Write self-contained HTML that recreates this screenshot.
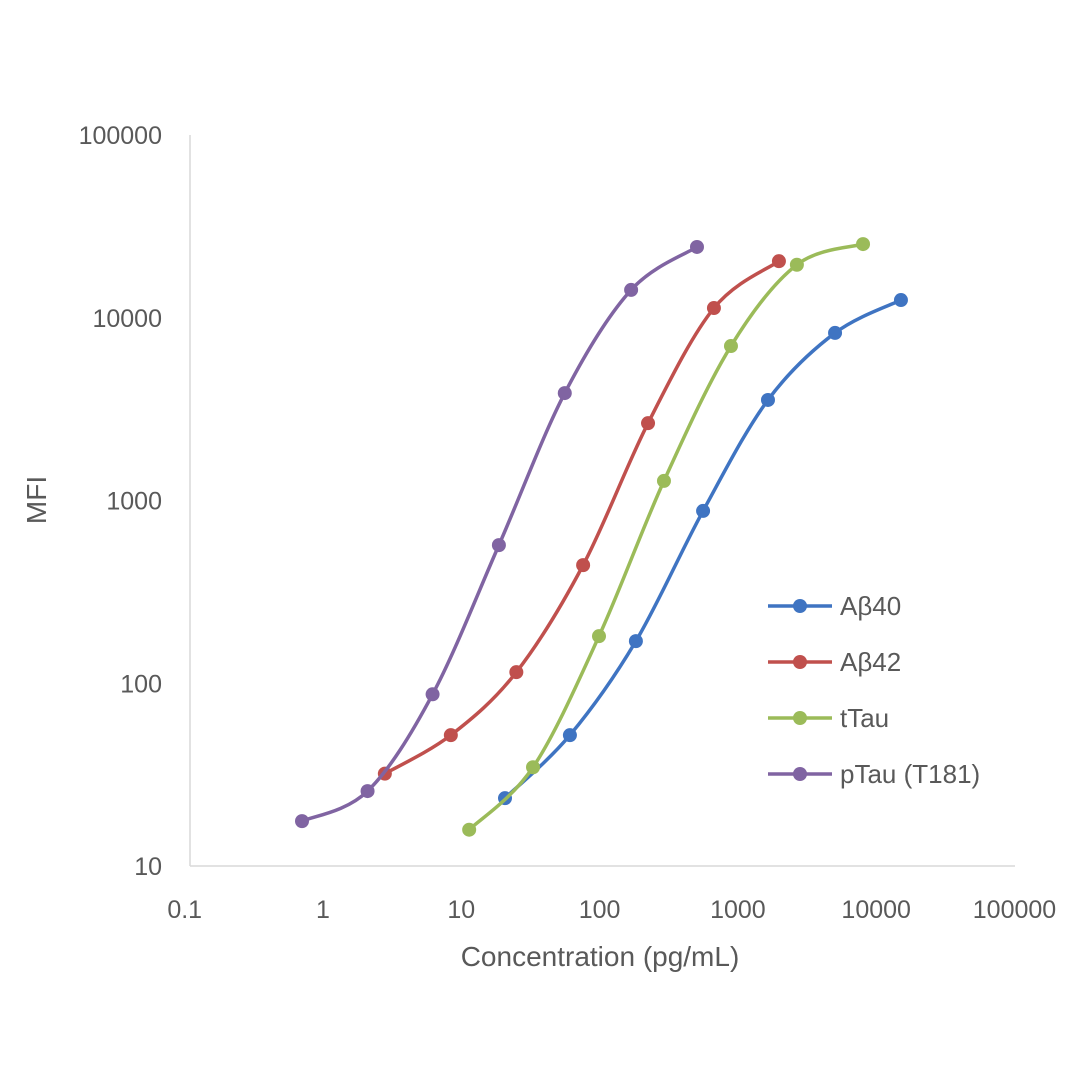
<!DOCTYPE html>
<html><head><meta charset="utf-8"><style>
html,body{margin:0;padding:0;background:#fff;}
svg{display:block;font-family:"Liberation Sans",sans-serif;}
</style></head><body>
<svg id="chart" width="1080" height="1080">
<g id="axes"></g>
<g id="series"></g>
<g id="legend"></g>
<text x="600" y="966" text-anchor="middle" font-size="28" fill="#595959">Concentration (pg/mL)</text>
<text transform="translate(46,500) rotate(-90)" text-anchor="middle" font-size="28" fill="#595959">MFI</text>
</svg>
<script>
const xTicks=[0.1,1,10,100,1000,10000,100000];
const xTickLabels=["0.1","1","10","100","1000","10000","100000"];
const yTicks=[10,100,1000,10000,100000];
const yTickLabels=["10","100","1000","10000","100000"];
const seriesNames=["Aβ40","Aβ42","tTau","pTau (T181)"];
const seriesColors=["#3f74c2","#c0504d","#9bbb59","#8064a2"];
const ab40X=[20.7,61,183,560,1650,5040,15100];
const ab40Y=[23.5,52,170,877,3550,8260,12500];
const ab42X=[2.8,8.4,25,76,224,671,1980];
const ab42Y=[32,52,115,443,2650,11300,20400];
const ttauX=[11.4,33,99,292,891,2670,8030];
const ttauY=[15.8,34.7,181,1280,7000,19500,25300];
const ptauX=[0.705,2.1,6.2,18.7,56,169,506];
const ptauY=[17.6,25.7,87,570,3870,14200,24400];
const allX=[ab40X,ab42X,ttauX,ptauX], allY=[ab40Y,ab42Y,ttauY,ptauY];

const NS="http://www.w3.org/2000/svg";
const sx=v=>323+(Math.log10(v))*138.3;
const sy=v=>135+(5-Math.log10(v))*182.75;
function mk(tag,attrs,parent){const e=document.createElementNS(NS,tag);for(const k in attrs)e.setAttribute(k,attrs[k]);parent.appendChild(e);return e;}
const axes=document.getElementById('axes');
let l=mk('line',{x1:190,y1:135,x2:190,y2:866,stroke:'#d9d9d9','stroke-width':1.5},axes);


l=mk('line',{x1:190,y1:866,x2:1015,y2:866,stroke:'#d9d9d9','stroke-width':1.5},axes);


xTicks.forEach((v,i)=>{const t=mk('text',{x:sx(v),y:918,'text-anchor':'middle','font-size':25,fill:'#595959'},axes);t.textContent=xTickLabels[i];

});
yTicks.forEach((v,i)=>{const t=mk('text',{x:162,y:sy(v)+9,'text-anchor':'end','font-size':25,fill:'#595959'},axes);t.textContent=yTickLabels[i];

});
const ser=document.getElementById('series');
function smooth(p){let d=`M${p[0][0]},${p[0][1]}`;for(let i=0;i<p.length-1;i++){const p0=p[i-1]||p[i],p1=p[i],p2=p[i+1],p3=p[i+2]||p2;const c1=[p1[0]+(p2[0]-p0[0])/6,p1[1]+(p2[1]-p0[1])/6],c2=[p2[0]-(p3[0]-p1[0])/6,p2[1]-(p3[1]-p1[1])/6];d+=`C${c1[0]},${c1[1]} ${c2[0]},${c2[1]} ${p2[0]},${p2[1]}`;}return d;}
allX.forEach((xs,s)=>{const g=mk('g',{},ser);


const pts=xs.map((x,i)=>[sx(x),sy(allY[s][i])]);
const p=mk('path',{d:smooth(pts),fill:'none',stroke:seriesColors[s],'stroke-width':3.5},g);


pts.forEach(q=>{const c=mk('circle',{cx:q[0],cy:q[1],r:7,fill:seriesColors[s]},g);

});});
const lg=document.getElementById('legend');
seriesNames.forEach((n,i)=>{const y=606+i*56;const g=mk('g',{},lg);


mk('line',{x1:768,y1:y,x2:832,y2:y,stroke:seriesColors[i],'stroke-width':3.5},g);
mk('circle',{cx:800,cy:y,r:7,fill:seriesColors[i]},g);
const t=mk('text',{x:840,y:y+9,'font-size':26,fill:'#595959'},g);t.textContent=n;});
</script>
</body></html>
